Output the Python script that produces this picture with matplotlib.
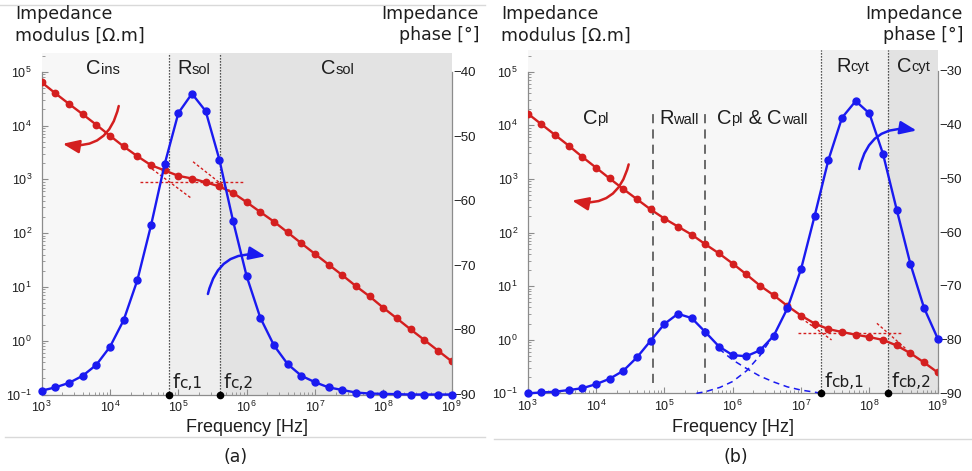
import matplotlib
matplotlib.use('Agg')
import matplotlib.pyplot as plt
from matplotlib.offsetbox import TextArea, HPacker, AnnotationBbox
from matplotlib.patches import FancyArrowPatch
from matplotlib.lines import Line2D
from matplotlib.ticker import LogLocator, FixedLocator, NullFormatter

plt.rcParams['font.family'] = ['Liberation Sans', 'DejaVu Sans']
plt.rcParams['axes.unicode_minus'] = True

W, H = 972, 471

# ---------------- data ----------------
frequency = [1.0e3, 1.58e3, 2.51e3, 3.98e3, 6.31e3, 1.0e4, 1.58e4, 2.51e4, 3.98e4, 6.31e4,
             1.0e5, 1.58e5, 2.51e5, 3.98e5, 6.31e5, 1.0e6, 1.58e6, 2.51e6, 3.98e6, 6.31e6,
             1.0e7, 1.58e7, 2.51e7, 3.98e7, 6.31e7, 1.0e8, 1.58e8, 2.51e8, 3.98e8, 6.31e8, 1.0e9]
freq_ticks = [1e3, 1e4, 1e5, 1e6, 1e7, 1e8, 1e9]
modulus_ticks = [0.1, 1, 10, 100, 1e3, 1e4, 1e5]

# panel (a)
modulus_a = [63400, 39800, 25200, 16200, 10300, 6440, 4090, 2690, 1830, 1460,
             1160, 1035, 883, 736, 560, 375, 247, 163, 103, 64.6,
             40.9, 26.0, 16.5, 10.3, 6.64, 4.08, 2.59, 1.62, 1.03, 0.653, 0.414]
phase_a = [-89.4, -88.9, -88.2, -87.1, -85.4, -82.6, -78.5, -72.3, -63.8, -54.3,
           -46.4, -43.4, -46.1, -53.6, -63.1, -71.7, -78.1, -82.4, -85.3, -87.1,
           -88.1, -88.9, -89.3, -89.7, -89.85, -89.9, -89.95, -90.0, -90.0, -90.0, -90.0]
phase_ticks_a = [-90, -80, -70, -60, -50, -40]
fc_a = [7.4e4, 4.07e5]
asym_a_h_f = [2.75e4, 9.3e5]
asym_a_h_z = [890, 890]
asym_a_d1_f = [3.6e4, 1.51e5]
asym_a_d1_z = [1770, 455]
asym_a_d2_f = [1.64e5, 5.6e5]
asym_a_d2_z = [2120, 620]

# panel (b)
modulus_b = [16600, 10500, 6610, 4170, 2570, 1620, 1020, 646, 417, 269,
             182, 129, 91.2, 60.3, 40.7, 26.3, 16.6, 10.2, 6.76, 4.27,
             2.82, 2.00, 1.58, 1.39, 1.24, 1.12, 0.99, 0.78, 0.56, 0.376, 0.245]
phase_b = [-90.0, -89.85, -89.7, -89.4, -89.05, -88.3, -87.3, -85.8, -83.3, -80.2,
           -77.1, -75.2, -76.0, -78.6, -81.3, -82.9, -83.1, -82.0, -79.3, -74.2,
           -66.9, -57.0, -46.6, -38.7, -35.6, -37.9, -45.4, -55.8, -65.9, -74.1, -79.8]
phase_ticks_b = [-90, -80, -70, -60, -50, -40, -30]
fc_b = [1.96e7, 1.86e8]
wall_bounds = [6.9e4, 3.94e5]
comp_down_f = [6.3e5, 1.0e6, 1.6e6, 2.5e6, 4.0e6, 6.3e6, 1.0e7, 1.6e7, 2.0e7]
comp_down_p = [-81.7, -83.8, -85.4, -86.8, -87.9, -88.8, -89.4, -89.8, -90.0]
comp_up_f = [2.95e5, 4.0e5, 6.5e5, 1.0e6, 1.6e6, 2.5e6, 3.5e6]
comp_up_p = [-90.0, -89.7, -88.9, -87.8, -85.8, -83.0, -80.2]
asym_b_h_f = [9.1e6, 2.95e8]
asym_b_h_z = [1.31, 1.31]
asym_b_d1_f = [1.02e7, 2.8e7]
asym_b_d1_z = [2.5, 0.99]
asym_b_d2_f = [1.29e8, 3.55e8]
asym_b_d2_z = [2.02, 0.65]

RED = '#d41f1f'
BLUE = '#1a1af0'
SPINE = '#8c8c8c'
TXT = '#1e1e1e'

fig = plt.figure(figsize=(W / 100, H / 100), dpi=100)
fig.patch.set_facecolor('white')


def rect(l, r, t, b):
    return [l / W, 1 - b / H, (r - l) / W, (b - t) / H]


def fx(x):
    return x / W


def fy(y):
    return 1 - y / H


def setup(ax, ax2, ztop, ptop, pticks):
    ax.set_xscale('log')
    ax.set_yscale('log')
    ax.set_xlim(freq_ticks[0], freq_ticks[-1])
    ax.set_ylim(modulus_ticks[0], ztop)
    ax2.set_ylim(pticks[0], ptop)
    ax.patch.set_visible(False)
    for s in ['top', 'right']:
        ax.spines[s].set_visible(False)
    for s in ['top', 'left', 'bottom']:
        ax2.spines[s].set_visible(False)
    for s in ['left', 'bottom']:
        ax.spines[s].set_color(SPINE)
        ax.spines[s].set_linewidth(0.9)
    ax2.spines['right'].set_color(SPINE)
    ax2.spines['right'].set_linewidth(0.9)
    ax.spines['left'].set_bounds(modulus_ticks[0], modulus_ticks[-1])
    ax2.spines['right'].set_bounds(pticks[0], pticks[-1])
    ax.xaxis.set_major_locator(FixedLocator(freq_ticks))
    ax.xaxis.set_minor_locator(LogLocator(base=10, subs=range(2, 10), numticks=100))
    ax.yaxis.set_major_locator(FixedLocator(modulus_ticks))
    ax.yaxis.set_minor_locator(LogLocator(base=10, subs=range(2, 10), numticks=100))
    ax.yaxis.set_minor_formatter(NullFormatter())
    ax.xaxis.set_minor_formatter(NullFormatter())
    ax.tick_params(which='major', direction='in', length=4, width=0.8, color=SPINE,
                   labelsize=9, labelcolor=TXT)
    ax.tick_params(which='minor', direction='in', length=2, width=0.6, color=SPINE)
    ax.tick_params(axis='y', pad=7)
    ax.tick_params(axis='x', pad=4)
    ax2.yaxis.set_major_locator(FixedLocator(pticks))
    ax2.tick_params(axis='y', direction='in', length=0, pad=1.5, labelsize=9.5, labelcolor=TXT)


def mixed(x, y, parts, align=(0.5, 0.5), family='Liberation Sans'):
    children = [TextArea(t, textprops=dict(size=s, family=family, color=TXT)) for t, s in parts]
    box = HPacker(children=children, align='baseline', pad=0, sep=0)
    ab = AnnotationBbox(box, (fx(x), fy(y)), xycoords='figure fraction', frameon=False,
                        box_alignment=align, pad=0, zorder=20)
    fig.add_artist(ab)


def curved_arrow(p0, p1, color, rad=-0.5):
    a = FancyArrowPatch((fx(p0[0]), fy(p0[1])), (fx(p1[0]), fy(p1[1])),
                        transform=fig.transFigure, connectionstyle=f'arc3,rad={rad}',
                        arrowstyle='-|>,head_length=0.55,head_width=0.22',
                        mutation_scale=18, lw=1.8, color=color, zorder=20)
    fig.add_artist(a)


def asym(ax, f, z):
    ax.plot(f, z, color=RED, lw=1.0, ls=(0, (2, 1.6)), zorder=3)


# ---------------- panel (a) ----------------
axa = fig.add_axes(rect(41.7, 451.7, 53, 394.5))
axa2 = axa.twinx()
setup(axa, axa2, 10 ** 5.348, -37.1, phase_ticks_a)
axa.axvspan(freq_ticks[0], fc_a[0], color='#f7f7f7', zorder=0, lw=0)
axa.axvspan(fc_a[0], fc_a[1], color='#eeeeee', zorder=0, lw=0)
axa.axvspan(fc_a[1], freq_ticks[-1], color='#e3e3e3', zorder=0, lw=0)
for f in fc_a:
    axa.axvline(f, color='#222222', lw=0.9, ls=(0, (1, 1.4)), zorder=1)
asym(axa, asym_a_h_f, asym_a_h_z)
asym(axa, asym_a_d1_f, asym_a_d1_z)
asym(axa, asym_a_d2_f, asym_a_d2_z)
axa.plot(frequency, modulus_a, color=RED, lw=1.7, marker='o', ms=4.6, zorder=4)
axa2.plot(frequency, phase_a, color=BLUE, lw=1.7, marker='o', ms=5.0, zorder=4, clip_on=False)
axa2.plot(fc_a, [-90, -90], 'o', color='black', ms=4.5, clip_on=False, zorder=6)

# ---------------- panel (b) ----------------
axb = fig.add_axes(rect(527.7, 937.7, 50, 393.3))
axb2 = axb.twinx()
setup(axb, axb2, 10 ** 5.405, -26.1, phase_ticks_b)
axb.axvspan(freq_ticks[0], fc_b[0], color='#f7f7f7', zorder=0, lw=0)
axb.axvspan(fc_b[0], fc_b[1], color='#efefef', zorder=0, lw=0)
axb.axvspan(fc_b[1], freq_ticks[-1], color='#e2e2e2', zorder=0, lw=0)
for f in fc_b:
    axb.axvline(f, color='#222222', lw=0.9, ls=(0, (1, 1.4)), zorder=1)
for f in wall_bounds:
    axb.axvline(f, ymin=0.03, ymax=0.82, color='#444444', lw=1.1, ls=(0, (6, 4)), zorder=1)
asym(axb, asym_b_h_f, asym_b_h_z)
asym(axb, asym_b_d1_f, asym_b_d1_z)
asym(axb, asym_b_d2_f, asym_b_d2_z)
axb.plot(frequency, modulus_b, color=RED, lw=1.7, marker='o', ms=4.6, zorder=4)
axb2.plot(comp_down_f, comp_down_p, color=BLUE, lw=1.1, ls=(0, (4, 3)), zorder=3, clip_on=False)
axb2.plot(comp_up_f, comp_up_p, color=BLUE, lw=1.1, ls=(0, (4, 3)), zorder=3, clip_on=False)
axb2.plot(frequency, phase_b, color=BLUE, lw=1.7, marker='o', ms=5.0, zorder=4, clip_on=False)
axb2.plot(fc_b, [-90, -90], 'o', color='black', ms=4.5, clip_on=False, zorder=6)

# ---------------- texts ----------------
for x0 in (0, 486):
    fig.text(fx(x0 + 15), fy(5), 'Impedance\nmodulus [Ω.m]', ha='left', va='top',
             family='DejaVu Sans', size=12.5, linespacing=1.25, color=TXT)
fig.text(fx(479), fy(5), 'Impedance\nphase [°]', ha='right', va='top', multialignment='right',
         family='DejaVu Sans', size=12.5, linespacing=1.25, color=TXT)
fig.text(fx(963), fy(5), 'Impedance\nphase [°]', ha='right', va='top', multialignment='right',
         family='DejaVu Sans', size=12.5, linespacing=1.25, color=TXT)
fig.text(fx(246.7), fy(427), 'Frequency [Hz]', ha='center', va='center', size=13, color=TXT)
fig.text(fx(732.7), fy(427), 'Frequency [Hz]', ha='center', va='center', size=13, color=TXT)
fig.text(fx(236), fy(457), '(a)', ha='center', va='center', family='DejaVu Sans', size=12.5, color=TXT)
fig.text(fx(736), fy(457), '(b)', ha='center', va='center', family='DejaVu Sans', size=12.5, color=TXT)

BIG, SMALL = 14.5, 10.5
mixed(103, 68, [('C', BIG), ('ins', SMALL)])
mixed(194, 68, [('R', BIG), ('sol', SMALL)])
mixed(338, 68, [('C', BIG), ('sol', SMALL)])
mixed(596, 118, [('C', BIG), ('pl', SMALL)])
mixed(679, 118, [('R', BIG), ('wall', SMALL)])
mixed(762, 118, [('C', BIG), ('pl', SMALL), (' & ', BIG), ('C', BIG), ('wall', SMALL)])
mixed(853, 66, [('R', BIG), ('cyt', SMALL)])
mixed(914, 66, [('C', BIG), ('cyt', SMALL)])

mixed(172.5, 392, [('f', 14), ('c,1', 11)], align=(0, 0), family='DejaVu Sans')
mixed(223.5, 392, [('f', 14), ('c,2', 11)], align=(0, 0), family='DejaVu Sans')
mixed(824.5, 391, [('f', 14), ('cb,1', 11)], align=(0, 0), family='DejaVu Sans')
mixed(891.5, 391, [('f', 14), ('cb,2', 11)], align=(0, 0), family='DejaVu Sans')

curved_arrow((119.3, 103.3), (60, 143.3), RED)
curved_arrow((207.3, 296.7), (268.3, 256.7), BLUE)
curved_arrow((629.3, 161.7), (569.3, 200), RED)
curved_arrow((858.7, 171.7), (919.3, 131), BLUE)

# light frame lines
for (x0, x1, y) in [(0, 485, 5), (5, 485, 437), (494, 971, 439)]:
    fig.add_artist(Line2D([fx(x0), fx(x1)], [fy(y), fy(y)], transform=fig.transFigure,
                          color='#d9d9d9', lw=1.0))

fig.savefig('out.png', dpi=100)
